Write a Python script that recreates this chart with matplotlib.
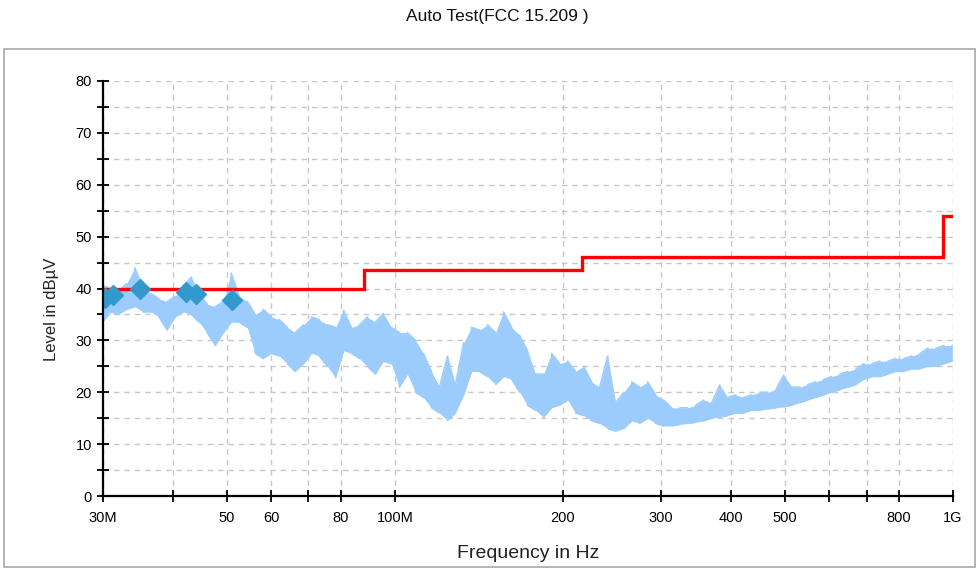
import matplotlib
matplotlib.use("Agg")
import matplotlib.pyplot as plt
from matplotlib.patches import Rectangle
from matplotlib.ticker import FixedLocator, NullLocator

plt.rcParams['font.family'] = ['Liberation Sans', 'DejaVu Sans']

# Measured trace: frequency (MHz) with the lower/upper level envelope (dBuV/m)
trace_freq = [30.0, 31.0, 32.0, 33.1, 34.2, 35.4, 36.6, 37.8, 39.1, 40.4,
              41.8, 43.2, 44.6, 46.1, 47.7, 49.3, 50.9, 52.6, 54.4, 56.2,
              58.1, 60.1, 62.1, 64.2, 66.3, 68.6, 70.9, 73.2, 75.7, 78.3,
              80.9, 83.6, 86.4, 89.3, 92.3, 95.4, 98.6, 101.9, 105.3, 108.9,
              112.5, 116.3, 120.2, 124.3, 128.4, 132.8, 137.2, 141.8, 146.6, 151.5,
              156.6, 161.9, 167.3, 172.9, 178.7, 184.7, 190.9, 197.4, 204.0, 210.8,
              217.9, 225.2, 232.8, 240.6, 248.7, 257.0, 265.7, 274.6, 283.8, 293.3,
              303.2, 313.4, 323.9, 334.8, 346.0, 357.6, 369.6, 382.1, 394.9, 408.2,
              421.9, 436.0, 450.7, 465.8, 481.5, 497.6, 514.3, 531.6, 549.5, 567.9,
              587.0, 606.7, 627.1, 648.1, 669.9, 692.4, 715.6, 739.7, 764.5, 790.2,
              816.7, 844.2, 872.5, 901.8, 932.1, 963.4, 995.7]
trace_hi = [40.5, 40.0, 39.5, 41.0, 44.0, 40.0, 39.0, 38.0, 37.5, 38.5,
            40.5, 42.2, 39.0, 37.0, 36.5, 37.5, 43.0, 38.5, 37.5, 35.0,
            36.0, 34.5, 34.0, 32.5, 31.5, 33.0, 34.5, 34.0, 33.0, 32.5,
            35.8, 32.5, 33.0, 34.5, 33.5, 35.2, 32.5, 31.5, 31.5, 30.0,
            27.5, 24.0, 21.0, 27.0, 21.5, 29.5, 32.5, 32.0, 33.0, 31.5,
            35.5, 32.5, 31.0, 28.0, 23.5, 23.5, 27.5, 25.5, 26.0, 24.0,
            25.0, 22.0, 21.0, 27.0, 18.0, 20.0, 22.0, 21.0, 22.0, 19.5,
            18.5, 17.0, 17.0, 17.0, 17.5, 18.5, 18.0, 21.4, 19.0, 19.5,
            19.0, 19.5, 20.0, 20.0, 20.5, 23.3, 21.0, 21.0, 21.5, 22.0,
            22.5, 23.0, 23.5, 24.0, 24.5, 25.5, 25.5, 26.0, 26.0, 26.5,
            26.5, 27.0, 27.5, 28.5, 28.5, 29.0, 29.0]
trace_lo = [33.5, 35.5, 35.0, 36.0, 36.5, 35.5, 35.5, 34.5, 32.0, 34.5,
            35.5, 35.0, 33.5, 31.5, 29.0, 31.5, 33.5, 33.5, 32.5, 27.5,
            26.5, 27.5, 27.0, 25.5, 24.0, 25.5, 27.5, 27.0, 25.0, 22.8,
            28.0, 27.5, 26.5, 25.0, 23.5, 26.0, 25.5, 21.0, 23.5, 20.0,
            19.0, 17.0, 16.0, 14.6, 16.0, 19.5, 24.0, 24.0, 23.0, 21.5,
            23.0, 22.5, 20.0, 17.5, 16.5, 15.2, 17.0, 17.5, 18.5, 16.0,
            15.5, 14.5, 14.0, 13.0, 12.5, 13.0, 14.5, 14.0, 15.0, 14.0,
            13.5, 13.5, 13.8, 14.0, 14.2, 14.5, 15.0, 15.2, 15.5, 16.0,
            16.0, 16.5, 16.5, 16.8, 17.0, 17.2, 17.5, 18.0, 18.5, 19.0,
            19.5, 20.0, 20.5, 21.0, 21.5, 22.5, 23.0, 23.0, 23.5, 24.0,
            24.0, 24.5, 24.5, 25.0, 25.0, 25.5, 26.0]

# FCC 15.209 radiated emission limit (step edges)
limit_freq = [30, 88, 88, 216, 216, 960, 960, 1000]
limit_level = [40, 40, 43.5, 43.5, 46, 46, 54, 54]

# Final measurement points
peak_freq = [30.25, 31.25, 34.9, 42.2, 44.1, 51.1]
peak_level = [38.2, 38.7, 39.9, 39.3, 38.9, 37.8]

x_ticks = [30, 40, 50, 60, 70, 80, 100, 200, 300, 400, 500, 600, 700, 800, 1000]
x_tick_labels = ['30M', '', '50', '60', '', '80', '100M', '200', '300', '400',
                 '500', '', '', '800', '1G']
y_ticks = [0, 5, 10, 15, 20, 25, 30, 35, 40, 45, 50, 55, 60, 65, 70, 75, 80]
y_tick_labels = ['0', '', '10', '', '20', '', '30', '', '40', '', '50', '',
                 '60', '', '70', '', '80']

W, H = 978, 569
fig = plt.figure(figsize=(W / 100, H / 100), dpi=100)
fig.patch.set_facecolor('white')

# outer panel border
fig.patches.append(Rectangle((4 / W, 1 - 567 / H), 971 / W, 518 / H,
                             transform=fig.transFigure, fill=False,
                             edgecolor='#A8A8A8', linewidth=1.2))

ax = fig.add_axes([103 / W, 1 - 496 / H, 850 / W, 415 / H])
ax.set_xscale('log')
ax.set_xlim(30, 1000)
ax.set_ylim(0, 80)

# measured spectrum: filled envelope plus zig-zag strokes
trace_color = '#9CCCFC'
ax.fill_between(trace_freq, trace_lo, trace_hi, color=trace_color, linewidth=0, zorder=2)
zx, zy = [], []
for i, f in enumerate(trace_freq):
    pair = (trace_lo[i], trace_hi[i]) if i % 2 == 0 else (trace_hi[i], trace_lo[i])
    zx += [f, f]
    zy += list(pair)
ax.plot(zx, zy, color=trace_color, linewidth=1.1, zorder=2)

ax.plot(limit_freq, limit_level, color='#FF0000', linewidth=2.4, zorder=3,
        solid_joinstyle='miter')
ax.plot(peak_freq, peak_level, linestyle='none', marker='D', markersize=10,
        color='#3399CC', markeredgecolor='#3399CC', zorder=4)

ax.xaxis.set_major_locator(FixedLocator(x_ticks))
ax.xaxis.set_minor_locator(NullLocator())
ax.set_xticklabels(x_tick_labels)
ax.set_yticks(y_ticks)
ax.set_yticklabels(y_tick_labels)

ax.grid(True, which='major', color='#C8C8C8', linestyle=(0, (4, 3.5)), linewidth=1.0)
ax.set_axisbelow(True)
for side in ('top', 'right'):
    ax.spines[side].set_visible(False)
for side in ('left', 'bottom'):
    ax.spines[side].set_linewidth(1.6)
    ax.spines[side].set_color('black')
    ax.spines[side].set_zorder(5)

ax.tick_params(axis='x', direction='inout', length=8, width=1.3, pad=7,
               labelsize=10.5, colors='black')
ax.tick_params(axis='y', direction='inout', length=8, width=1.3, pad=4,
               labelsize=10.5, colors='black')

ax.set_xlabel('Frequency in Hz', fontsize=14, color='#222222')
ax.xaxis.set_label_coords(0.5, -0.138)
ax.xaxis.label.set_va('center')
ax.set_ylabel('Level in dB\u00b5V', fontsize=12, color='#222222')
ax.yaxis.set_label_coords(-0.0600, 0.45)
ax.yaxis.label.set_va('center')

fig.text(497 / W, 1 - 17 / H, 'Auto Test(FCC 15.209 )', ha='center', va='center',
         fontsize=12.5, color='#111111')

fig.savefig('out.png', dpi=100, facecolor='white')
